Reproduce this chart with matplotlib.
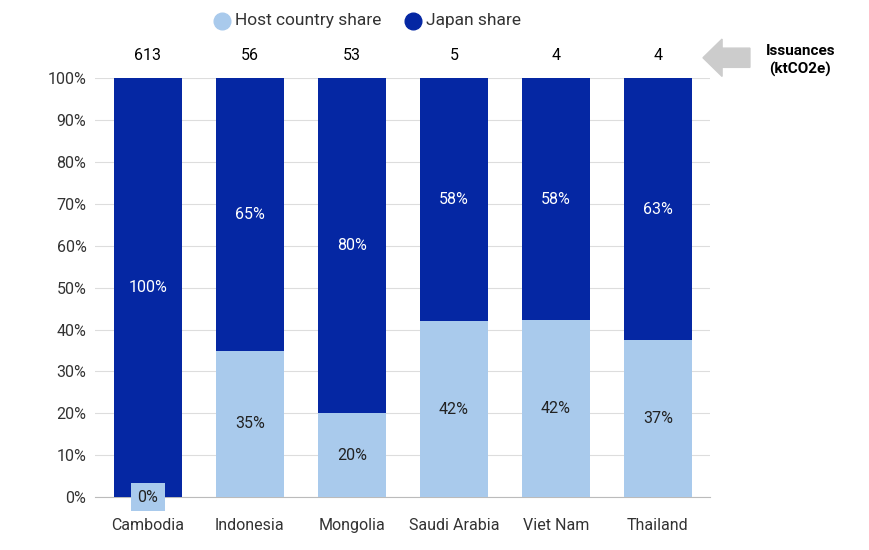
import matplotlib.pyplot as plt
from matplotlib.patches import FancyArrow
from matplotlib.lines import Line2D
import numpy as np

plt.rcParams["font.family"] = "Roboto"

countries = ["Cambodia", "Indonesia", "Mongolia", "Saudi Arabia", "Viet Nam", "Thailand"]
host_share = [0, 35, 20, 42, 42.3, 37.4]
japan_share = [100 - h for h in host_share]
issuances = [613, 56, 53, 5, 4, 4]

HOST = "#a9caec"
JAPAN = "#0527a3"

fig = plt.figure(figsize=(8.7, 5.5), dpi=100)
ax = fig.add_axes([0.109, 0.096, 0.707, 0.762])
x = np.arange(len(countries))
w = 0.67
ax.bar(x, host_share, w, color=HOST, zorder=3)
ax.bar(x, japan_share, w, bottom=host_share, color=JAPAN, zorder=3)

for i, (h, j) in enumerate(zip(host_share, japan_share)):
    if h > 0:
        ax.text(i, h / 2, f"{h:.0f}%", ha="center", va="center", fontsize=11.5, color="#222222", zorder=4)
    else:
        ax.text(i, 0, "0%", ha="center", va="center", fontsize=11.5, color="#222222", zorder=4,
                bbox=dict(boxstyle="square,pad=0.4", fc=HOST, ec="none"))
    ax.text(i, h + j / 2, f"{j:.0f}%", ha="center", va="center", fontsize=11.5, color="white", zorder=4)
    ax.text(i, 103.5, str(issuances[i]), ha="center", va="bottom", fontsize=11.5, color="black")

ax.set_xlim(-0.52, 5.51)
ax.set_ylim(0, 100)
ax.set_yticks(range(0, 101, 10))
ax.set_yticklabels([f"{v}%" for v in range(0, 101, 10)], fontsize=11.5, color="#333333")
ax.set_xticks(x)
ax.set_xticklabels(countries, fontsize=11.5, color="#333333")
ax.yaxis.grid(True, color="#dddddd", lw=0.8, zorder=0)
for s in ["top", "right", "left"]:
    ax.spines[s].set_visible(False)
ax.spines["bottom"].set_color("#bbbbbb")
ax.tick_params(axis="y", length=0, pad=6)
ax.tick_params(axis="x", length=0, pad=15)

# legend
fig.lines.append(Line2D([0.255], [0.962], marker="o", markersize=12, color=HOST, ls="none",
                        transform=fig.transFigure))
fig.text(0.270, 0.962, "Host country share", fontsize=12.5, color="#333333", va="center")
fig.lines.append(Line2D([0.475], [0.962], marker="o", markersize=12, color=JAPAN, ls="none",
                        transform=fig.transFigure))
fig.text(0.490, 0.962, "Japan share", fontsize=12.5, color="#333333", va="center")

# arrow + label
fig.patches.append(FancyArrow(0.862, 0.895, -0.032, 0, width=0.035, head_width=0.068,
                              head_length=0.022, color="#cccccc", transform=fig.transFigure))
fig.text(0.92, 0.89, "Issuances\n(ktCO2e)", ha="center", va="center", fontsize=11,
         fontweight="bold", color="black", linespacing=1.3)

fig.savefig("out.png", dpi=100)
